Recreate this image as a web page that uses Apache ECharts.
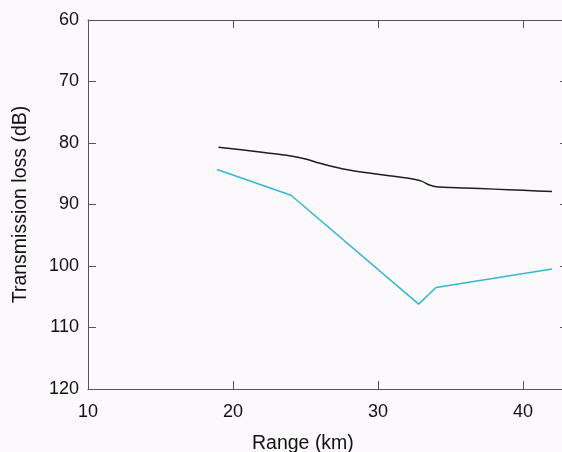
<!DOCTYPE html>
<html>
<head>
<meta charset="utf-8">
<script src="https://cdn.jsdelivr.net/npm/echarts@6/dist/echarts.min.js"></script>
<style>
html,body{margin:0;padding:0;background:#fbf9fb;overflow:hidden;}
#chart{width:600px;height:452px;}
</style>
</head>
<body>
<div id="chart"></div>
<script>
// Data
var blackRange = [19, 22, 24, 25, 26, 27, 28, 30, 32, 33, 33.5, 34, 36, 38, 40, 42];
var blackLoss  = [80.7, 81.5, 82.1, 82.6, 83.3, 83.9, 84.4, 85.1, 85.7, 86.2, 86.8, 87.1, 87.3, 87.5, 87.7, 87.9];
var cyanRange = [18.9, 24.0, 32.8, 34.0, 42.0];
var cyanLoss  = [84.3, 88.5, 106.2, 103.5, 100.5];
var xTicks = [10, 20, 30, 40];
var yTicks = [60, 70, 80, 90, 100, 110, 120];

function pairs(xs, ys){ return xs.map(function(x,i){ return [x, ys[i]]; }); }

var font = 'Liberation Sans, Arial, Helvetica, sans-serif';
var axisColor = '#555';
var chart = echarts.init(document.getElementById('chart'), null, {renderer:'canvas'});
var xMin = 10, xMax = 43.1;
var labelFmt = function(v){ return xTicks.indexOf(v) >= 0 ? String(v) : ''; };
var yFmt = function(v){ return yTicks.indexOf(v) >= 0 ? String(v) : ''; };
chart.setOption({
  backgroundColor: '#fbf9fb',
  animation: false,
  grid: {left: 88, width: 480, top: 20, height: 369, containLabel: false},
  title: {
    text: 'Range (km)', left: 247, top: 429,
    textStyle: {fontFamily: font, fontSize: 19.5, fontWeight: 'normal', color: '#111'}
  },
  xAxis: [{
    type: 'value', min: xMin, max: xMax, interval: 10, position: 'bottom',
    axisLine: {show: true, lineStyle: {color: axisColor, width: 1}},
    axisTick: {show: true, inside: true, length: 8, lineStyle: {color: axisColor}},
    axisLabel: {show: true, formatter: labelFmt, fontFamily: font, fontSize: 18, color: '#111', margin: 14},
    splitLine: {show: false}
  }, {
    type: 'value', min: xMin, max: xMax, interval: 10, position: 'top',
    axisLine: {show: true, lineStyle: {color: axisColor, width: 1}},
    axisTick: {show: true, inside: true, length: 8, lineStyle: {color: axisColor}},
    axisLabel: {show: false},
    splitLine: {show: false}
  }],
  yAxis: [{
    type: 'value', min: 60, max: 120, interval: 10, inverse: true, position: 'left',
    name: 'Transmission loss (dB)', nameLocation: 'middle', nameGap: 57,
    nameTextStyle: {fontFamily: font, fontSize: 19.5, color: '#111'},
    axisLine: {show: true, lineStyle: {color: axisColor, width: 1}},
    axisTick: {show: true, inside: true, length: 8, lineStyle: {color: axisColor}},
    axisLabel: {show: true, formatter: yFmt, fontFamily: font, fontSize: 18, color: '#111', margin: 9},
    splitLine: {show: false}
  }, {
    type: 'value', min: 60, max: 120, interval: 10, inverse: true, position: 'right',
    axisLine: {show: true, lineStyle: {color: axisColor, width: 1}},
    axisTick: {show: true, inside: true, length: 8, lineStyle: {color: axisColor}},
    axisLabel: {show: false},
    splitLine: {show: false}
  }],
  series: [{
    type: 'line', xAxisIndex: 0, yAxisIndex: 0, data: pairs(blackRange, blackLoss),
    showSymbol: false, smooth: 0.2, lineStyle: {color: '#1e1e1e', width: 1.5}
  }, {
    type: 'line', xAxisIndex: 0, yAxisIndex: 0, data: pairs(cyanRange, cyanLoss),
    showSymbol: false, lineStyle: {color: '#35b6d3', width: 1.5}
  }]
});
</script>
</body>
</html>
